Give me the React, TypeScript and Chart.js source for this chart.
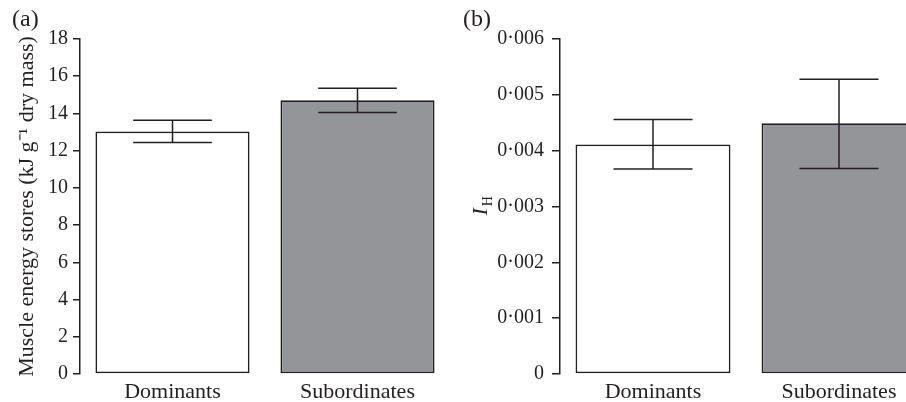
import React, { useEffect, useRef } from 'react';
import { Chart, registerables } from 'chart.js';

Chart.register(...registerables);

// ---- data ----
const categories = ['Dominants', 'Subordinates'];
const barColors = ['#ffffff', '#939598'];

const energyMean = [13.03, 14.71];
const energyUpper = [13.63, 15.35];
const energyLower = [12.44, 14.05];
const energyMin = 0;
const energyMax = 18;
const energyStep = 2;
const energyTitle = 'Muscle energy stores (kJ g\u207B\u00B9 dry mass)';

const ihMean = [0.00411, 0.00449];
const ihUpper = [0.00456, 0.00528];
const ihLower = [0.00367, 0.00368];
const ihMin = 0;
const ihMax = 0.006;
const ihStep = 0.001;
const ihTitleMain = 'I';
const ihTitleSub = 'H';

const panelLabels = ['(a)', '(b)'];

// ---- style ----
const INK = '#231f20';
const SERIF = '"Liberation Serif", "Times New Roman", serif';

type PanelOpts = {
  means: number[];
  upper: number[];
  lower: number[];
  min: number;
  max: number;
  step: number;
  fmt: (v: number) => string;
  yWidth: number;
  padRight: number;
  tickLen: number;
  tickPad: number;
  title?: string;
  subTitle?: [string, string];
  label: string;
  labelX: number;
};

function buildConfig(p: PanelOpts): any {
  const errorBars = {
    id: 'errorBars',
    afterDatasetsDraw(chart: any) {
      const ctx = chart.ctx;
      const meta = chart.getDatasetMeta(0);
      const ys = chart.scales.y;
      ctx.save();
      ctx.strokeStyle = INK;
      ctx.lineWidth = 1.5;
      meta.data.forEach((bar: any, i: number) => {
        const x = bar.x;
        const hw = bar.width * 0.255;
        const yHi = ys.getPixelForValue(p.upper[i]);
        const yLo = ys.getPixelForValue(p.lower[i]);
        ctx.beginPath();
        ctx.moveTo(x, yHi);
        ctx.lineTo(x, yLo);
        ctx.moveTo(x - hw, yHi);
        ctx.lineTo(x + hw, yHi);
        ctx.moveTo(x - hw, yLo);
        ctx.lineTo(x + hw, yLo);
        ctx.stroke();
      });
      ctx.restore();
    },
  };

  const textDecor = {
    id: 'textDecor',
    afterDraw(chart: any) {
      const ctx = chart.ctx;
      const area = chart.chartArea;
      ctx.save();
      ctx.fillStyle = INK;
      ctx.textBaseline = 'alphabetic';
      ctx.textAlign = 'left';
      ctx.font = `24px ${SERIF}`;
      ctx.fillText(p.label, p.labelX, 26);
      if (p.subTitle) {
        const midY = (area.top + area.bottom) / 2;
        ctx.translate(area.left - 73, midY + 9);
        ctx.rotate(-Math.PI / 2);
        ctx.font = `italic 22px ${SERIF}`;
        ctx.fillText(p.subTitle[0], 0, 0);
        const w = ctx.measureText(p.subTitle[0]).width;
        ctx.font = `14px ${SERIF}`;
        ctx.fillText(p.subTitle[1], w + 2, 5);
      }
      ctx.restore();
    },
  };

  return {
    type: 'bar',
    data: {
      labels: categories,
      datasets: [
        {
          data: p.means,
          backgroundColor: barColors,
          borderColor: INK,
          borderWidth: 1.7,
          borderSkipped: false,
          categoryPercentage: 1,
          barPercentage: 0.833,
        },
      ],
    },
    options: {
      animation: false,
      responsive: false,
      maintainAspectRatio: false,
      layout: { padding: { top: 39, right: p.padRight, bottom: 0, left: 0 } },
      plugins: {
        legend: { display: false },
        tooltip: { enabled: false },
      },
      scales: {
        x: {
          type: 'category',
          grid: { display: false, drawTicks: false },
          border: { display: false },
          ticks: {
            color: INK,
            font: { family: SERIF, size: 22 },
            padding: 5,
            maxRotation: 0,
            autoSkip: false,
          },
          afterFit: (s: any) => {
            s.height = 28;
          },
        },
        y: {
          min: p.min,
          max: p.max,
          ticks: {
            stepSize: p.step,
            color: INK,
            font: { family: SERIF, size: 20 },
            padding: p.tickPad,
            callback: (v: any) => p.fmt(Number(v)),
          },
          grid: {
            drawOnChartArea: false,
            drawTicks: true,
            tickLength: p.tickLen,
            color: INK,
            lineWidth: 1.5,
          },
          border: { display: true, color: INK, width: 1.5 },
          title: p.title
            ? {
                display: true,
                text: p.title,
                color: INK,
                font: { family: SERIF, size: 22 },
                padding: { top: 14, bottom: 0 },
              }
            : { display: false },
          afterFit: (s: any) => {
            s.width = p.yWidth;
          },
        },
      },
    },
    plugins: [errorBars, textDecor],
  };
}

function Panel(props: { opts: PanelOpts; left: number; width: number }) {
  const ref = useRef<HTMLCanvasElement | null>(null);
  useEffect(() => {
    if (!ref.current) return;
    const chart = new Chart(ref.current, buildConfig(props.opts));
    return () => chart.destroy();
  }, []);
  return (
    <div style={{ position: 'absolute', left: props.left, top: 0, width: props.width, height: 402 }}>
      <canvas ref={ref} width={props.width} height={402} style={{ width: props.width, height: 402, display: 'block' }} />
    </div>
  );
}

export default function App() {
  const optsA: PanelOpts = {
    means: energyMean,
    upper: energyUpper,
    lower: energyLower,
    min: energyMin,
    max: energyMax,
    step: energyStep,
    fmt: (v) => String(Math.round(v)),
    yWidth: 80,
    padRight: 10,
    tickLen: 7,
    tickPad: 5,
    title: energyTitle,
    label: panelLabels[0],
    labelX: 12,
  };
  const optsB: PanelOpts = {
    means: ihMean,
    upper: ihUpper,
    lower: ihLower,
    min: ihMin,
    max: ihMax,
    step: ihStep,
    fmt: (v) => (Math.abs(v) < 1e-12 ? '0' : v.toFixed(3).replace('.', '\u00B7')),
    yWidth: 120,
    padRight: 18,
    tickLen: 8,
    tickPad: 8,
    subTitle: [ihTitleMain, ihTitleSub],
    label: panelLabels[1],
    labelX: 23,
  };
  return (
    <div
      style={{
        position: 'fixed',
        left: 0,
        top: 0,
        width: 906,
        height: 402,
        overflow: 'hidden',
        background: '#ffffff',
      }}
    >
      <Panel opts={optsA} left={0} width={460} />
      <Panel opts={optsB} left={440} width={510} />
    </div>
  );
}
